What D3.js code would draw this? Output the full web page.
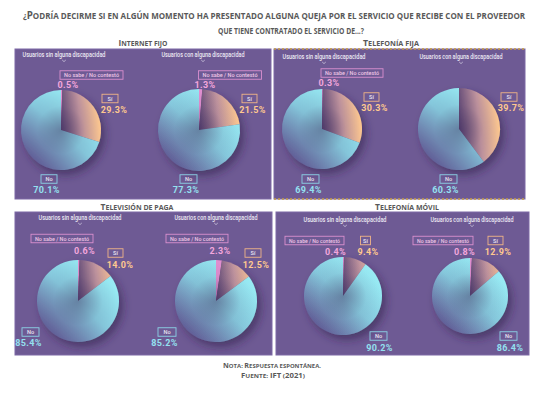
<!DOCTYPE html>
<html>
<head>
<meta charset="utf-8">
<script src="https://cdn.jsdelivr.net/npm/d3@7"></script>
<style>
  body { margin: 0; background: #fff; }
  svg { display: block; }
</style>
</head>
<body>
<div id="chart"></div>
<script>
// Datos
const services = ["Internet fijo", "Telefonía fija", "Televisión de paga", "Telefonía móvil"];
const groups = ["Usuarios sin alguna discapacidad", "Usuarios con alguna discapacidad"];
const categories = ["No sabe / No contestó", "Sí", "No"];
// un valor por pastel: [servicio x grupo]
const noSabe = [0.5, 1.3, 0.3, 0, 0.6, 2.3, 0.4, 0.8];
const si = [29.3, 21.5, 30.3, 39.7, 14.0, 12.5, 9.4, 12.9];
const no = [70.1, 77.3, 69.4, 60.3, 85.4, 85.2, 90.2, 86.4];

// Layout (posiciones de paneles, pasteles y etiquetas)
const width = 560, height = 398;
const panels = [
    { x: 15, y: 49, w: 256, h: 150, tx: 143, ty: 46, tl: 49 },
    { x: 274, y: 49, w: 251, h: 150, tx: 391, ty: 46, tl: 56, dotted: true },
    { x: 15, y: 212, w: 257, h: 143, tx: 137, ty: 210, tl: 73 },
    { x: 276, y: 212, w: 253, h: 143, tx: 407, ty: 210, tl: 64 }
];
// [cajaX, cajaY, cajaAncho, valorX, valorY]
const pies = [
    { cx: 61, cy: 130, r: 40, gx: 64, gy: 55, ns: [91.5, 75, 63, 68, 85], si: [110, 98.5, 16, 114, 110], no: [49, 179, 16, 46.5, 190] },
    { cx: 199, cy: 130, r: 41, gx: 203, gy: 55, ns: [230, 75, 63, 205, 85], si: [249.5, 98.5, 15, 252.5, 110], no: [188.5, 179, 17, 186, 190] },
    { cx: 322, cy: 129, r: 40, gx: 324, gy: 57, ns: [352, 73, 62, 329, 83], si: [371.5, 97, 15, 374.5, 108], no: [310.5, 179, 17, 308.5, 190] },
    { cx: 459, cy: 129, r: 41, gx: 461, gy: 57, ns: null, si: [509, 97, 16, 511, 108], no: [448.5, 179, 17, 445.5, 190] },
    { cx: 78, cy: 301, r: 41, gx: 80, gy: 218, ns: [62, 238.5, 62, 84.5, 251], si: [115.5, 253, 15, 120, 265], no: [30.5, 332, 17, 28.5, 343] },
    { cx: 216, cy: 301, r: 41, gx: 216, gy: 218, ns: [197, 238.5, 62, 220, 251], si: [253, 253, 16, 256, 265], no: [167, 332, 18, 164.5, 343] },
    { cx: 343, cy: 296, r: 39, gx: 345, gy: 220, ns: [314.5, 240.5, 59, 335.5, 252], si: [365.5, 240.5, 10, 368, 252], no: [378.5, 336, 17, 379.5, 348] },
    { cx: 470, cy: 296, r: 38, gx: 472, gy: 220, ns: [443, 240.5, 60, 464.5, 252], si: [495.5, 240.5, 15, 498, 252], no: [508.5, 336, 17, 510, 348] }
];

const colors = {
    ns: { border: "#d98fcf", text: "#f3a6dc", slice: "#e28fd0" },
    si: { border: "#f0b487", text: "#ffc98f" },
    no: { border: "#8bd3e6", text: "#94e1f0" }
};

const svg = d3.select("#chart")
    .append("svg")
    .attr("width", width)
    .attr("height", height)
    .style("font-family", "Roboto, 'Open Sans', sans-serif");

const defs = svg.append("defs");
const shadow = defs.append("filter").attr("id", "shadow")
    .attr("x", "-50%").attr("y", "-50%").attr("width", "200%").attr("height", "200%");
shadow.append("feDropShadow")
    .attr("dx", 4).attr("dy", 5).attr("stdDeviation", 4)
    .attr("flood-color", "#2f1f4a").attr("flood-opacity", 0.55);

// versalitas hechas a mano: mayusculas grandes, minusculas en mayuscula pequena
// el texto se encoge en horizontal (scale) hasta el ancho len
function smallCaps(x, y, str, big, small, len) {
    const t = svg.append("text")
        .attr("x", 0).attr("y", 0)
        .attr("text-anchor", "middle")
        .attr("fill", "#595959")
        .style("font-family", "'Open Sans', sans-serif")
        .style("font-weight", "bold");
    const runs = [];
    for (const ch of str) {
        const isBig = /[A-ZÁÉÍÓÚÑ0-9]/.test(ch);
        if (runs.length && runs[runs.length - 1].big === isBig) runs[runs.length - 1].s += ch;
        else runs.push({ big: isBig, s: ch });
    }
    runs.forEach(r => {
        t.append("tspan")
            .attr("font-size", r.big ? big : small)
            .text(r.s.toUpperCase());
    });
    const natural = t.node().getComputedTextLength();
    t.attr("transform", `translate(${x},${y}) scale(${len / natural},1)`);
    return t;
}

// Titulo
smallCaps(274, 19, "¿Podría decirme si en algún momento ha presentado alguna queja por el servicio que recibe con el proveedor", 11.2, 9.2, 502);
smallCaps(291, 33.5, "que tiene contratado el servicio de...?", 11.2, 9.2, 146);

// Paneles
panels.forEach((p, i) => {
    svg.append("rect")
        .attr("x", p.x).attr("y", p.y)
        .attr("width", p.w).attr("height", p.h)
        .attr("fill", "#6e5a94")
        .attr("stroke", "#7d69a5").attr("stroke-width", 1);
    if (p.dotted) {
        [p.y, p.y + p.h].forEach(yy => {
            svg.append("line")
                .attr("x1", p.x).attr("x2", p.x + p.w)
                .attr("y1", yy).attr("y2", yy)
                .attr("stroke", "#c49a45").attr("stroke-width", 1.5)
                .attr("stroke-dasharray", "2,2");
        });
    }
    smallCaps(p.tx, p.ty, services[i], 8, 6.6, p.tl);
});

const pie = d3.pie().sort(null).value(d => d.value);
const arc = d3.arc().innerRadius(0);
const fmt = d3.format(".1f");

pies.forEach((p, i) => {
    const values = [
        { key: "ns", value: noSabe[i] },
        { key: "si", value: si[i] },
        { key: "no", value: no[i] }
    ];
    const r = p.r;

    // gradientes por pastel (coordenadas relativas al centro)
    const gSi = defs.append("linearGradient").attr("id", "si" + i)
        .attr("gradientUnits", "userSpaceOnUse")
        .attr("x1", 0).attr("y1", 0).attr("x2", r).attr("y2", -r * 0.1);
    gSi.append("stop").attr("offset", 0).attr("stop-color", "#5a4474");
    gSi.append("stop").attr("offset", 0.5).attr("stop-color", "#c0949e");
    gSi.append("stop").attr("offset", 1).attr("stop-color", "#ffc98f");

    const gNo = defs.append("linearGradient").attr("id", "no" + i)
        .attr("gradientUnits", "userSpaceOnUse")
        .attr("x1", r * 0.7).attr("y1", -r * 0.5)
        .attr("x2", -r * 0.6).attr("y2", r * 0.9);
    gNo.append("stop").attr("offset", 0).attr("stop-color", "#98ebf4");
    gNo.append("stop").attr("offset", 0.45).attr("stop-color", "#86c9dd");
    gNo.append("stop").attr("offset", 1).attr("stop-color", "#5f5893");

    const gShade = defs.append("radialGradient").attr("id", "shade" + i)
        .attr("gradientUnits", "userSpaceOnUse")
        .attr("cx", 0).attr("cy", 0).attr("r", r);
    gShade.append("stop").attr("offset", 0).attr("stop-color", "#3e2c5c").attr("stop-opacity", 0.45);
    gShade.append("stop").attr("offset", 0.6).attr("stop-color", "#3e2c5c").attr("stop-opacity", 0.06);
    gShade.append("stop").attr("offset", 1).attr("stop-color", "#3e2c5c").attr("stop-opacity", 0);

    const g = svg.append("g");

    // etiqueta de grupo
    g.append("text")
        .attr("x", p.gx).attr("y", p.gy + 2)
        .attr("text-anchor", "middle")
        .attr("font-size", 6.4)
        .attr("font-weight", 500)
        .attr("fill", "#ece8f3")
        .attr("textLength", 83).attr("lengthAdjust", "spacingAndGlyphs")
        .text(groups[i % 2]);
    g.append("path")
        .attr("d", `M${p.gx - 1.8},${p.gy + 5} L${p.gx},${p.gy + 6.6} L${p.gx + 1.8},${p.gy + 5}`)
        .attr("fill", "none").attr("stroke", "#d8d2e6").attr("stroke-width", 0.7);

    // pastel
    const pg = g.append("g")
        .attr("transform", `translate(${p.cx},${p.cy})`);
    const body = pg.append("g").attr("filter", "url(#shadow)");
    const arcs = pie(values);
    body.selectAll("path.slice")
        .data(arcs.filter(d => d.data.value > 0))
        .enter().append("path")
        .attr("class", "slice")
        .attr("d", d => arc.outerRadius(r)(d))
        .attr("fill", d => d.data.key === "ns" ? colors.ns.slice : `url(#${d.data.key}${i})`);
    pg.append("circle")
        .attr("r", r)
        .attr("fill", `url(#shade${i})`);

    // etiquetas
    values.forEach((d, j) => {
        const pos = p[d.key];
        if (!pos || d.value <= 0) return;
        const c = colors[d.key];
        const bh = 8.5;
        g.append("rect")
            .attr("x", pos[0] - pos[2] / 2).attr("y", pos[1] - bh / 2)
            .attr("width", pos[2]).attr("height", bh)
            .attr("fill", "none")
            .attr("stroke", c.border).attr("stroke-width", 0.9);
        const lbl = g.append("text")
            .attr("x", pos[0]).attr("y", pos[1] + 2)
            .attr("text-anchor", "middle")
            .attr("font-size", 5.6)
            .attr("font-weight", 500)
            .attr("fill", d.key === "ns" ? "#f0c6e6" : "#e9e4f2")
            .text(categories[j]);
        if (d.key === "ns") lbl.attr("textLength", pos[2] - 8).attr("lengthAdjust", "spacingAndGlyphs");
        g.append("text")
            .attr("x", pos[3]).attr("y", pos[4] + 3.2)
            .attr("text-anchor", "middle")
            .attr("font-size", 9)
            .attr("font-weight", "bold")
            .attr("letter-spacing", 0.3)
            .attr("fill", c.text)
            .text(fmt(d.value) + "%");
    });
});

// Nota y fuente
smallCaps(272, 368, "Nota: Respuesta espontánea.", 6.6, 5.5, 98);
smallCaps(273, 378, "Fuente: IFT (2021)", 6.6, 5.5, 64);
</script>
</body>
</html>
